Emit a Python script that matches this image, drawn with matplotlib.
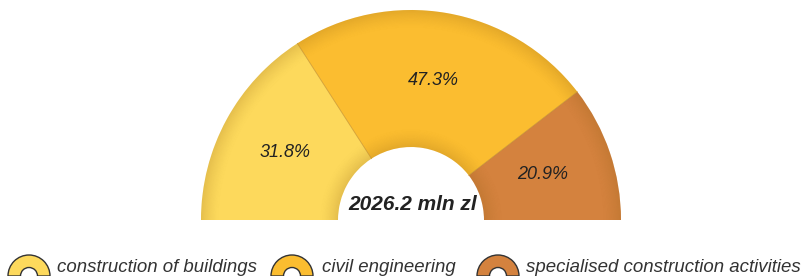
import matplotlib
matplotlib.use("Agg")
import matplotlib.pyplot as plt
from matplotlib.patches import Wedge
from matplotlib import font_manager
import numpy as np

categories = ["construction of buildings", "civil engineering",
              "specialised construction activities"]
shares = [31.8, 47.3, 20.9]
total_label = "2026.2 mln zl"

COLORS = ["#FDD95C", "#FBBD30", "#D4823E"]
EDGE = "#8a5a10"
INK = "#222222"

names = {f.name for f in font_manager.fontManager.ttflist}
NARROW = "Liberation Sans Narrow" if "Liberation Sans Narrow" in names else "Liberation Sans"
plt.rcParams["font.family"] = ["Liberation Sans", "DejaVu Sans"]

W, H = 802, 276
fig = plt.figure(figsize=(W / 100, H / 100), dpi=100)
ax = fig.add_axes([0, 0, 1, 1])
ax.set_xlim(0, W); ax.set_ylim(0, H)
ax.axis("off")

cx, cy = 411, 56
R, r = 210, 73

# segments, clockwise from the left
cum = 0.0
for val, col in zip(shares, COLORS):
    t2 = 180 - cum * 1.8
    t1 = 180 - (cum + val) * 1.8
    ax.add_patch(Wedge((cx, cy), R, t1, t2, width=R - r, facecolor=col,
                       edgecolor="none", zorder=1))
    mid = np.radians((t1 + t2) / 2)
    rm = (R + r) / 2
    ax.text(cx + rm * np.cos(mid) - 2, cy + rm * np.sin(mid), f"{val:.1f}%",
            ha="center", va="center", fontsize=13, style="italic", color=INK, zorder=5)
    cum += val

# rim shading: outer and inner bands darken towards the edge
n = 16
band = 18
for k in range(n):
    a = 0.2 * ((k + 1) / n) ** 1.5
    ax.add_patch(Wedge((cx, cy), R - band + band * (k + 1) / n, 0, 180,
                       width=band / n, facecolor=EDGE, alpha=a,
                       edgecolor="none", zorder=2))
    ax.add_patch(Wedge((cx, cy), r + band - band * k / n, 0, 180,
                       width=band / n, facecolor=EDGE, alpha=a,
                       edgecolor="none", zorder=2))

# thin boundaries between segments
cum = 0.0
for val in shares[:-1]:
    cum += val
    th = np.radians(180 - cum * 1.8)
    ax.plot([cx + r * np.cos(th), cx + R * np.cos(th)],
            [cy + r * np.sin(th), cy + R * np.sin(th)],
            color="#c08a20", lw=0.6, alpha=0.7, zorder=3)

ax.text(cx + 2, cy + 16, total_label, ha="center", va="center", fontsize=15,
        weight="bold", style="italic", color=INK, zorder=5)

# legend
icon_x = [29, 292, 498]
text_x = [57, 322, 526]
for ix, tx, col, name in zip(icon_x, text_x, COLORS, categories):
    ax.add_patch(Wedge((ix, 0), 21, 0, 180, width=12.5, facecolor=col,
                       edgecolor="#333333", lw=1.0, zorder=4))
    ax.text(tx, 8, name, ha="left", va="center", fontsize=13.4,
            style="italic", family=[NARROW, "DejaVu Sans"], color="#333333")

fig.savefig("out.png", dpi=100)
